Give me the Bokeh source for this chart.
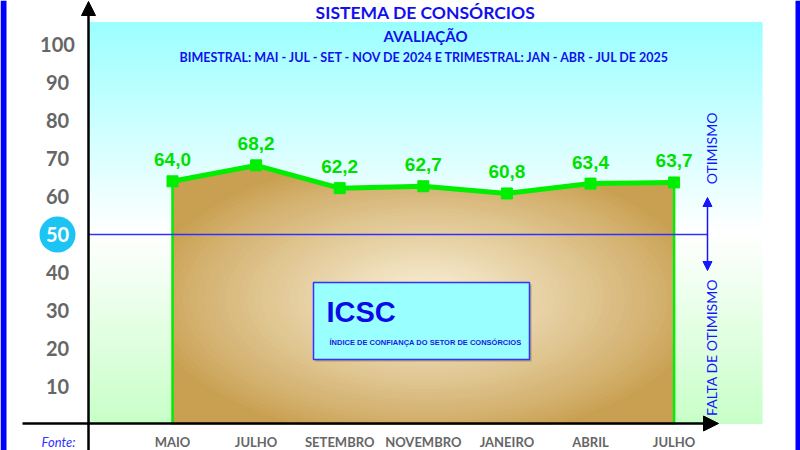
import numpy as np
from bokeh.plotting import figure
from bokeh.models import Range1d, Arrow, NormalHead
from bokeh.core.properties import value
from bokeh.embed import file_html
from bokeh.resources import INLINE

# ---------------- data ----------------
months = ["MAIO", "JULHO", "SETEMBRO", "NOVEMBRO", "JANEIRO", "ABRIL", "JULHO"]
icsc = [64.0, 68.2, 62.2, 62.7, 60.8, 63.4, 63.7]
value_labels = ["64,0", "68,2", "62,2", "62,7", "60,8", "63,4", "63,7"]
y_ticks = [10, 20, 30, 40, 50, 60, 70, 80, 90, 100]
threshold = 50

title = "SISTEMA DE CONSÓRCIOS"
subtitle1 = "AVALIAÇÃO"
subtitle2 = "BIMESTRAL: MAI - JUL - SET - NOV DE 2024 E TRIMESTRAL: JAN - ABR - JUL DE 2025"

# ---------------- geometry ----------------
W, H = 800, 450
X0, DX = 172.0, 83.6     # px of first category, px per category
Y0, DY = 424.0, 3.8      # px of value 0, px per value unit


def rx(px):
    return (px - X0) / DX


def ry(py):
    return (Y0 - py) / DY


idx = list(range(len(months)))

p = figure(width=W, height=H, x_range=Range1d(rx(0), rx(W)), y_range=Range1d(ry(H), ry(0)),
           output_backend="svg", toolbar_location=None, min_border=0,
           x_axis_location=None, y_axis_location=None)
p.grid.visible = False
p.outline_line_color = None
p.background_fill_color = "white"
p.border_fill_color = "white"

# ---------------- background gradient ----------------
N = 120
edges = np.linspace(22, 423, N + 1)
top_c = np.array([155, 255, 255])
mid_c = np.array([255, 255, 255])
bot_c = np.array([200, 255, 200])
cols = []
for i in range(N):
    yc = 0.5 * (edges[i] + edges[i + 1])
    if yc < 232:
        t = (yc - 22) / (232 - 22)
        c = top_c + (mid_c - top_c) * t
    else:
        t = (yc - 232) / (423 - 232)
        c = mid_c + (bot_c - mid_c) * t
    cols.append("#%02x%02x%02x" % tuple(int(round(v)) for v in c))
p.quad(left=rx(88), right=rx(762), top=[ry(e - 0.6) for e in edges[:-1]],
       bottom=[ry(e + 0.6) for e in edges[1:]], fill_color=cols, line_color=None)

# ---------------- brown area with radial highlight ----------------
xs = np.linspace(0, len(months) - 1, 500)
area_top = np.interp(xs, idx, icsc)
base = np.array([201, 160, 82])
light = np.array([250, 241, 218])
p.varea(x=xs, y1=np.zeros_like(xs), y2=area_top, fill_color="#%02x%02x%02x" % tuple(base))
cx, cy, a, b = 425.0, 298.0, 285.0, 145.0
K = 40
pxs = X0 + DX * xs
for k in range(1, K):
    s = 1 - k / K
    t = 1 - s
    c = base + (light - base) * t ** 0.9
    d = (pxs - cx) / (a * s)
    inside = np.abs(d) < 1
    h = np.where(inside, b * s * np.sqrt(np.clip(1 - d ** 2, 0, 1)), 0.0)
    v_hi = (Y0 - (cy - h)) / DY
    v_lo = (Y0 - (cy + h)) / DY
    lo = np.maximum(v_lo, 0)
    hi = np.maximum(lo, np.minimum(v_hi, area_top))
    p.varea(x=xs, y1=lo, y2=hi, fill_color="#%02x%02x%02x" % tuple(int(round(v)) for v in c))

# ---------------- line, markers, edges ----------------
green = "#00EE00"
p.segment(x0=[idx[0], idx[-1]], y0=[0, 0], x1=[idx[0], idx[-1]], y1=[icsc[0], icsc[-1]],
          line_color=green, line_width=2.5)
p.line(idx, icsc, line_color=green, line_width=5)
p.scatter(idx, icsc, marker="square", size=11, fill_color=green, line_color=green)
p.text(x=idx, y=icsc, text=value_labels, y_offset=-15, text_align="center", text_baseline="bottom",
       text_font=value("Liberation Sans"), text_font_style="bold", text_font_size="19px",
       text_color="#00E000")

# ---------------- threshold line and arrow ----------------
p.segment(x0=[rx(88)], x1=[rx(707)], y0=[threshold], y1=[threshold], line_color="#3030FF", line_width=1.3)
p.add_layout(Arrow(start=NormalHead(size=9, fill_color="#1515FF", line_color="#1515FF"),
                   end=NormalHead(size=9, fill_color="#1515FF", line_color="#1515FF"),
                   x_start=rx(707), y_start=ry(270), x_end=rx(707), y_end=ry(197),
                   line_color="#1515FF", line_width=1.5))
p.text(x=[rx(711)], y=[ry(148)], text=["OTIMISMO"], angle=np.pi / 2, text_align="center",
       text_baseline="middle", text_font=value("Lato"), text_font_size="14px", text_color="#1515FF")
p.text(x=[rx(711)], y=[ry(347)], text=["FALTA DE OTIMISMO"], angle=np.pi / 2, text_align="center",
       text_baseline="middle", text_font=value("Lato"), text_font_size="14px", text_color="#1515FF")

# ---------------- axes ----------------
p.add_layout(Arrow(end=NormalHead(size=14, fill_color="black", line_color="black"),
                   x_start=rx(88), y_start=ry(460), x_end=rx(88), y_end=ry(1),
                   line_color="black", line_width=2.5))
p.add_layout(Arrow(end=NormalHead(size=15, fill_color="black", line_color="black"),
                   x_start=rx(22), y_start=ry(423), x_end=rx(718), y_end=ry(423),
                   line_color="black", line_width=2.5))

other_ticks = [t for t in y_ticks if t != threshold]
p.text(x=[rx(57)] * len(other_ticks), y=other_ticks, text=[str(t) for t in other_ticks],
       text_align="center", text_baseline="middle", text_font=value("Lato"), text_font_style="bold",
       text_font_size="20px", text_color="#666666")
p.scatter(x=[rx(57)], y=[threshold], marker="circle", size=36, fill_color="#1CC4F4", line_color=None)
p.text(x=[rx(57)], y=[threshold], text=[str(threshold)], text_align="center", text_baseline="middle",
       text_font=value("Lato"), text_font_style="bold", text_font_size="20px", text_color="white")

p.text(x=idx, y=[ry(441)] * len(idx), text=months, text_align="center", text_baseline="middle",
       text_font=value("Lato"), text_font_style="bold", text_font_size="13px", text_color="#666666")
p.text(x=[rx(58)], y=[ry(441)], text=["Fonte:"], text_align="center", text_baseline="middle",
       text_font=value("Lato"), text_font_style="italic", text_font_size="13px", text_color="#3333FF")

# ---------------- titles ----------------
p.text(x=[rx(425)], y=[ry(12)], text=[title], text_align="center", text_baseline="middle",
       text_font=value("Lato"), text_font_style="bold", text_font_size="17.5px", text_color="#1111EE")
p.text(x=[rx(425)], y=[ry(35)], text=[subtitle1], text_align="center", text_baseline="middle",
       text_font=value("Lato"), text_font_style="bold", text_font_size="15px", text_color="#1111EE")
p.text(x=[rx(425)], y=[ry(57)], text=[subtitle2], text_align="center", text_baseline="middle",
       text_font=value("Lato"), text_font_style="bold", text_font_size="12.5px", text_color="#1111EE")

# ---------------- ICSC box ----------------
p.quad(left=rx(315), right=rx(531), top=ry(284), bottom=ry(361), fill_color="#7a6a40",
       fill_alpha=0.45, line_color=None)
p.quad(left=rx(313), right=rx(529), top=ry(282), bottom=ry(359), fill_color="#99FFFF",
       line_color="#3333FF", line_width=1.5)
p.text(x=[rx(326)], y=[ry(311)], text=["ICSC"], text_align="left", text_baseline="middle",
       text_font=value("Liberation Sans"), text_font_style="bold", text_font_size="29px",
       text_color="#0A0AE6")
p.text(x=[rx(329)], y=[ry(342)], text=["ÍNDICE DE CONFIANÇA DO SETOR DE CONSÓRCIOS"], text_align="left",
       text_baseline="middle", text_font=value("Liberation Sans"), text_font_style="bold",
       text_font_size="7.5px", text_color="#1A1AE6")

# ---------------- side bars ----------------
p.quad(left=[rx(0), rx(795)], right=[rx(6), rx(800)], top=ry(0), bottom=ry(450),
       fill_color="#0000FF", line_color=None)

open("out.html", "w").write(file_html(p, INLINE))
